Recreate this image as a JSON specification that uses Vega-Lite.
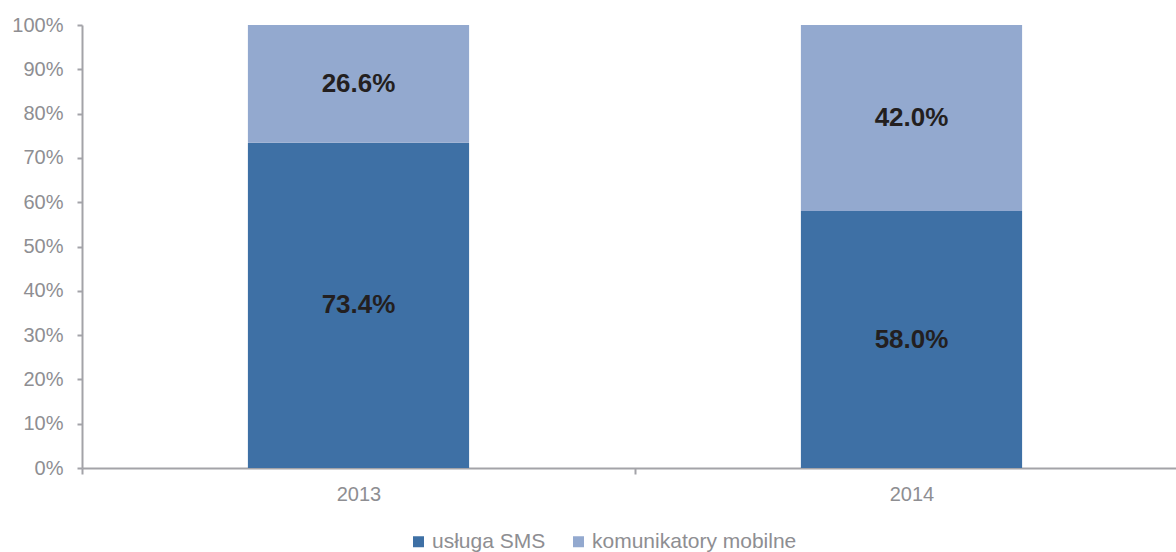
{
  "$schema": "https://vega.github.io/schema/vega-lite/v6.json",
  "autosize": "none",
  "padding": {"left": 82, "top": 25, "right": 0, "bottom": 84},
  "width": 1106,
  "height": 443,
  "background": "white",
  "config": {
    "view": {"stroke": null},
    "font": "Liberation Sans",
    "axis": {"labelFont": "Liberation Sans", "labelColor": "#8E8E92", "labelFontSize": 20, "domainColor": "#A3A3A8", "tickColor": "#A3A3A8", "domainWidth": 2, "tickWidth": 2, "grid": false, "title": null}
  },
  "data": {
    "values": [
      {"year": "2013", "series": "usługa SMS", "order": 1, "value": 73.4},
      {"year": "2013", "series": "komunikatory mobilne", "order": 2, "value": 26.6},
      {"year": "2014", "series": "usługa SMS", "order": 1, "value": 58.0},
      {"year": "2014", "series": "komunikatory mobilne", "order": 2, "value": 42.0}
    ]
  },
  "transform": [
    {"stack": "value", "groupby": ["year"], "sort": [{"field": "order", "order": "ascending"}], "as": ["y0", "y1"]},
    {"calculate": "(datum.y0 + datum.y1) / 2", "as": "mid"},
    {"calculate": "format(datum.value, '.1f') + '%'", "as": "label"}
  ],
  "encoding": {
    "x": {
      "field": "year", "type": "nominal",
      "scale": {"paddingInner": 0, "paddingOuter": 0},
      "axis": {"labelAngle": 0, "tickBand": "extent", "tickSize": 6, "labelPadding": 10, "title": null}
    }
  },
  "layer": [
    {
      "mark": {"type": "bar", "width": {"band": 0.4}},
      "encoding": {
        "y": {"field": "y0", "type": "quantitative", "scale": {"domain": [0, 100], "nice": false},
          "axis": {"values": [0,10,20,30,40,50,60,70,80,90,100], "labelExpr": "datum.value + '%'", "tickSize": 5, "labelPadding": 14, "title": null}},
        "y2": {"field": "y1"},
        "color": {
          "field": "series", "type": "nominal",
          "scale": {"domain": ["usługa SMS", "komunikatory mobilne"], "range": ["#3E70A5", "#93A9CF"]},
          "legend": {"orient": "none", "legendX": 326, "legendY": 506, "direction": "horizontal", "title": null, "symbolType": "square", "symbolSize": 121, "symbolStrokeWidth": 0, "labelFontSize": 21, "labelLimit": 500, "labelColor": "#8E8E92", "labelFont": "Liberation Sans", "labelOffset": 3, "columnPadding": 22, "symbolOpacity": 1}
        }
      }
    },
    {
      "mark": {"type": "text", "font": "Liberation Sans", "fontWeight": "bold", "fontSize": 26, "color": "#231F20", "baseline": "middle"},
      "encoding": {
        "y": {"field": "mid", "type": "quantitative"},
        "text": {"field": "label"}
      }
    }
  ]
}
